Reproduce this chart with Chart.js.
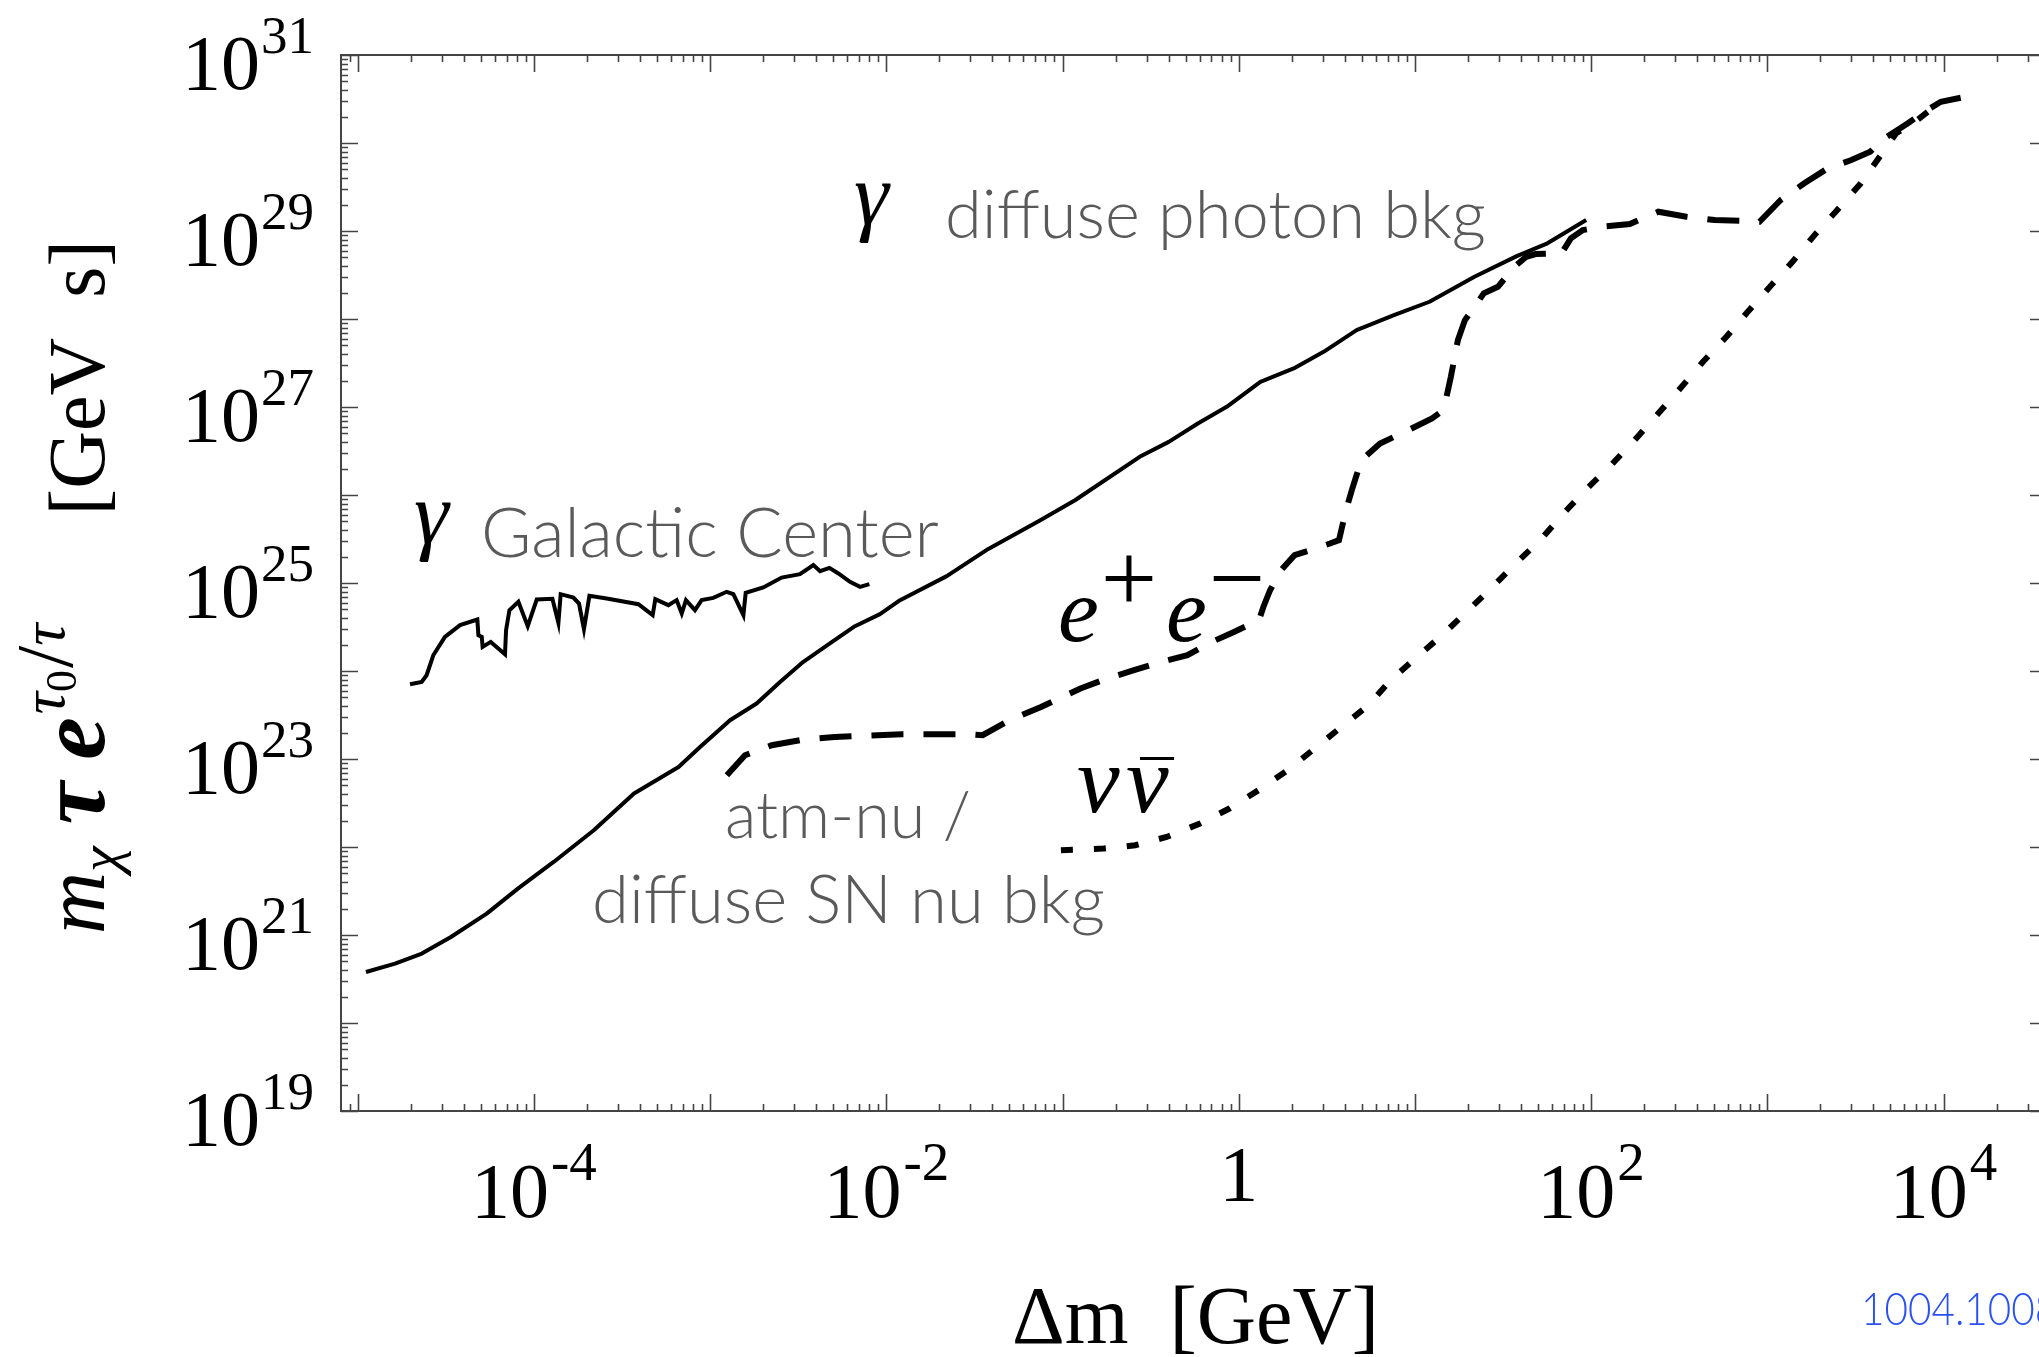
<!DOCTYPE html>
<html>
<head>
<meta charset="utf-8">
<script src="https://cdn.jsdelivr.net/npm/chart.js@4.4.1/dist/chart.umd.min.js"></script>
<style>
  html, body { margin: 0; padding: 0; background: #fff; overflow: hidden; }
  #wrap { width: 2039px; height: 1357px; overflow: hidden; position: relative; }
  canvas { display: block; }
</style>
</head>
<body>
<div id="wrap"><canvas id="chart" width="2060" height="1357"></canvas></div>
<script>
// values, stored as log10 exponents
// log10(Δm / GeV) and log10(m τ e^(τ0/τ) / GeV s)

// γ diffuse photon bkg (solid)
const photonLogM = [-4.953, -4.788, -4.636, -4.471, -4.268, -4.091, -3.888, -3.660, -3.432, -3.179,
    -3.057, -2.887, -2.736, -2.603, -2.471, -2.320, -2.178, -2.036, -1.922, -1.657,
    -1.421, -1.126, -0.929, -0.562, -0.397, -0.232, -0.068, 0.123, 0.312, 0.482,
    0.669, 0.881, 1.083, 1.338, 1.578, 1.752, 1.972];
const photonLogTau = [20.58, 20.675, 20.789, 20.977, 21.243, 21.527, 21.830, 22.190, 22.607, 22.910,
    23.137, 23.441, 23.630, 23.876, 24.104, 24.313, 24.509, 24.646, 24.805, 25.078,
    25.387, 25.712, 25.94, 26.434, 26.604, 26.813, 27.002, 27.286, 27.438, 27.627,
    27.874, 28.044, 28.196, 28.480, 28.715, 28.860, 29.124];

// γ Galactic Center (solid, jagged)
const gcLogM = [-4.703, -4.637, -4.609, -4.571, -4.505, -4.419, -4.321, -4.315, -4.296, -4.291,
    -4.245, -4.164, -4.158, -4.139, -4.088, -4.035, -3.984, -3.895, -3.861, -3.848,
    -3.776, -3.744, -3.716, -3.685, -3.587, -3.407, -3.326, -3.311, -3.237, -3.190,
    -3.161, -3.137, -3.086, -3.048, -2.982, -2.906, -2.868, -2.811, -2.798, -2.698,
    -2.594, -2.490, -2.414, -2.376, -2.323, -2.272, -2.206, -2.149, -2.096];
const gcLogTau = [23.850, 23.876, 23.952, 24.179, 24.388, 24.521, 24.585, 24.407, 24.388, 24.274,
    24.331, 24.191, 24.464, 24.691, 24.786, 24.509, 24.812, 24.820, 24.547, 24.873,
    24.835, 24.767, 24.475, 24.854, 24.823, 24.759, 24.634, 24.816, 24.748, 24.805,
    24.653, 24.805, 24.691, 24.805, 24.831, 24.900, 24.873, 24.634, 24.888, 24.949,
    25.062, 25.100, 25.203, 25.134, 25.172, 25.108, 25.013, 24.956, 24.987];

// e+e- (dashed)
const eeLogM = [-2.905, -2.802, -2.650, -2.472, -2.293, -1.911, -1.530, -1.453, -1.300, -1.122,
    -0.898, -0.747, -0.594, -0.443, -0.291, -0.152, -0.027, 0.115, 0.140, 0.178,
    0.240, 0.317, 0.393, 0.518, 0.569, 0.609, 0.642, 0.696, 0.802, 0.963,
    1.097, 1.163, 1.204, 1.244, 1.284, 1.338, 1.391, 1.471, 1.565, 1.632,
    1.685, 1.832, 1.885, 1.953, 2.060, 2.220, 2.381, 2.541, 2.701, 2.862,
    2.956, 3.076, 3.210, 3.343, 3.477, 3.584, 3.665, 3.798, 3.878, 3.985, 4.173];
const eeLogTau = [22.815, 23.043, 23.157, 23.221, 23.251, 23.282, 23.282, 23.270, 23.441, 23.592,
    23.801, 23.915, 24.009, 24.103, 24.179, 24.331, 24.444, 24.577, 24.728, 24.918,
    25.146, 25.316, 25.365, 25.449, 25.487, 25.828, 26.055, 26.396, 26.586, 26.737,
    26.870, 26.965, 27.343, 27.760, 27.988, 28.139, 28.291, 28.366, 28.593, 28.707,
    28.738, 28.746, 28.916, 29.011, 29.048, 29.079, 29.219, 29.162, 29.124, 29.116,
    29.105, 29.352, 29.542, 29.712, 29.806, 29.901, 30.053, 30.224, 30.337, 30.469, 30.545];

// ν ν̄ (dotted)
const nuLogM = [-1.009, -0.766, -0.587, -0.409, -0.219, -0.053, 0.112, 0.278, 0.431, 0.583,
    0.736, 0.862, 1.002, 1.154, 1.293, 1.432, 1.572, 1.711, 1.843, 1.977,
    2.113, 2.247, 2.381, 2.514, 2.635, 2.768, 2.889, 3.023, 3.143, 3.276,
    3.397, 3.531, 3.638, 3.731, 3.851, 3.985];
const nuLogTau = [21.963, 21.982, 22.020, 22.114, 22.267, 22.437, 22.645, 22.872, 23.119, 23.365,
    23.611, 23.895, 24.142, 24.407, 24.672, 24.938, 25.222, 25.487, 25.790, 26.074,
    26.339, 26.624, 26.927, 27.229, 27.514, 27.798, 28.082, 28.385, 28.650, 28.973,
    29.238, 29.542, 29.844, 30.110, 30.261, 30.469];

// axis ranges (exponents) and labelled decades
const xLogMin = -5.0948, xLogMax = 4.5874;
const yLogMin = 19, yLogMax = 31;
const xLabelExps = [-4, -2, 0, 2, 4];
const yLabelExps = [19, 21, 23, 25, 27, 29, 31];

const SERIF = '"Liberation Serif", "DejaVu Serif", serif';
const SANS = 'Lato, "Open Sans", "Noto Sans", sans-serif';
const GREY = '#5a5a5a';

function toPoints(lx, ly) {
    return lx.map((v, i) => ({ x: Math.pow(10, v), y: Math.pow(10, ly[i]) }));
}

// frame with inward ticks on all four sides
const framePlugin = {
    id: 'frame',
    afterDatasetsDraw(chart) {
        const { ctx, chartArea: a, scales: { x, y } } = chart;
        ctx.save();
        ctx.strokeStyle = '#444';
        ctx.lineWidth = 2;
        ctx.strokeRect(a.left, a.top, a.right - a.left, a.bottom - a.top);
        ctx.lineWidth = 1.6;
        ctx.beginPath();
        for (let e = -6; e <= 5; e++) {
            for (let m = 1; m <= 9; m++) {
                const v = m * Math.pow(10, e);
                if (v < x.min || v > x.max) continue;
                const px = Math.round(x.getPixelForValue(v)) + 0.5;
                const len = m === 1 ? 17 : 7;
                ctx.moveTo(px, a.bottom); ctx.lineTo(px, a.bottom - len);
                ctx.moveTo(px, a.top); ctx.lineTo(px, a.top + len);
            }
        }
        for (let e = 18; e <= 31; e++) {
            for (let m = 1; m <= 9; m++) {
                const v = m * Math.pow(10, e);
                if (v < y.min * 0.999 || v > y.max * 1.001) continue;
                const py = Math.round(y.getPixelForValue(v)) + 0.5;
                const len = m === 1 ? 17 : 7;
                ctx.moveTo(a.left, py); ctx.lineTo(a.left + len, py);
                ctx.moveTo(a.right, py); ctx.lineTo(a.right - len, py);
            }
        }
        ctx.stroke();
        ctx.restore();
    },
    afterDraw(chart) {
        const { ctx, scales: { x, y } } = chart;
        ctx.save();
        ctx.fillStyle = '#000';
        ctx.textBaseline = 'alphabetic';

        // y tick labels 10^n
        yLabelExps.forEach(e => {
            const py = y.getPixelForValue(Math.pow(10, e));
            const right = 314;
            ctx.font = `53px ${SERIF}`;
            const sw = ctx.measureText(String(e)).width;
            ctx.textAlign = 'left';
            ctx.fillText(String(e), right - sw, py - 2);
            ctx.font = `78px ${SERIF}`;
            ctx.textAlign = 'right';
            ctx.fillText('10', right - sw - 1, py + 34);
        });

        // x tick labels
        xLabelExps.forEach(e => {
            const px = x.getPixelForValue(Math.pow(10, e));
            ctx.textAlign = 'left';
            if (e === 0) {
                ctx.font = `78px ${SERIF}`;
                const w = ctx.measureText('1').width;
                ctx.fillText('1', px - w / 2, 1200);
                return;
            }
            const sup = e < 0 ? '-' + Math.abs(e) : String(e);
            ctx.font = `78px ${SERIF}`;
            const bw = ctx.measureText('10').width;
            ctx.font = `55px ${SERIF}`;
            const sw = ctx.measureText(sup).width;
            const left = px - (bw + 2 + sw) / 2;
            ctx.fillText(sup, left + bw + 2, 1180);
            ctx.font = `78px ${SERIF}`;
            ctx.fillText('10', left, 1217);
        });

        // x axis title
        ctx.font = `82px ${SERIF}`;
        ctx.textAlign = 'left';
        ctx.fillText('Δm  [GeV]', 1012, 1343);

        // y axis title, rotated
        ctx.save();
        ctx.translate(104, 0);
        ctx.rotate(-Math.PI / 2);
        let u = -934;
        const put = (text, font, v, gap) => {
            u += gap || 0;
            ctx.font = font;
            ctx.fillText(text, u, v);
            u += ctx.measureText(text).width;
        };
        put('m', `italic 86px ${SERIF}`, 0, 0);
        put('χ', `italic 58px ${SERIF}`, 15, 0);
        put('τ', `bold italic 96px ${SERIF}`, 0, 22);
        put('e', `bold italic 96px ${SERIF}`, 0, 22);
        put('τ', `italic 62px ${SERIF}`, -40, 3);
        put('0', `44px ${SERIF}`, -28, 0);
        put('/', `80px ${SERIF}`, -32, 2);
        put('τ', `italic 62px ${SERIF}`, -40, 0);
        ctx.font = `80px ${SERIF}`;
        ctx.textAlign = 'right';
        ctx.fillText('[GeV  s]', -240, 0);
        ctx.restore();

        // curve annotations
        ctx.textAlign = 'left';
        ctx.font = `italic 88px ${SERIF}`;
        ctx.fillText('γ', 854, 224);
        ctx.fillText('γ', 414, 543);

        ctx.font = `italic 92px ${SERIF}`;
        ctx.fillText('e', 1058, 641);
        ctx.fillText('e', 1166, 641);
        ctx.font = `100px ${SERIF}`;
        ctx.textAlign = 'center';
        ctx.fillText('+', 1129, 612);
        ctx.fillText('−', 1237, 612);

        // ν ν̄ with the bar set over the second ν
        ctx.textAlign = 'left';
        ctx.font = `italic 96px ${SERIF}`;
        ctx.fillText('ν', 1077, 812);
        ctx.fillText('ν', 1126, 812);
        ctx.font = `66px ${SERIF}`;
        ctx.textAlign = 'center';
        const mb = ctx.measureText('¯');
        ctx.fillText('¯', 1157, 758 - (mb.actualBoundingBoxDescent - mb.actualBoundingBoxAscent) / 2);

        ctx.textAlign = 'left';
        const fit = (text, x0, base, width, color) => {
            ctx.font = `300 100px ${SANS}`;
            const size = 100 * width / ctx.measureText(text).width;
            ctx.font = `300 ${size}px ${SANS}`;
            ctx.fillStyle = color;
            ctx.fillText(text, x0, base);
        };
        fit('diffuse photon bkg', 945, 238, 541, GREY);
        fit('Galactic Center', 481, 557, 458, GREY);
        fit('atm-nu /', 725, 838, 246, GREY);
        fit('diffuse SN nu bkg', 592, 923, 513, GREY);

        // reference tag, narrow face, runs off the right edge
        ctx.save();
        ctx.translate(1861, 1325);
        ctx.scale(0.88, 1);
        ctx.fillStyle = '#2a50f0';
        ctx.font = `300 46px ${SANS}`;
        ctx.fillText('1004.1008', 0, 0);
        ctx.restore();
        ctx.restore();
    }
};

const ctx = document.getElementById('chart').getContext('2d');
new Chart(ctx, {
    type: 'scatter',
    data: {
        datasets: [{
            label: 'γ diffuse photon bkg',
            data: toPoints(photonLogM, photonLogTau),
            borderColor: '#000',
            borderWidth: 4,
            borderJoinStyle: 'round'
        }, {
            label: 'γ Galactic Center',
            data: toPoints(gcLogM, gcLogTau),
            borderColor: '#000',
            borderWidth: 4,
            borderJoinStyle: 'miter'
        }, {
            label: 'e+e-',
            data: toPoints(eeLogM, eeLogTau),
            borderColor: '#000',
            borderWidth: 6,
            borderDash: [32, 20]
        }, {
            label: 'nu nubar',
            data: toPoints(nuLogM, nuLogTau),
            borderColor: '#000',
            borderWidth: 6,
            borderDash: [12, 21]
        }]
    },
    options: {
        responsive: false,
        animation: false,
        devicePixelRatio: 1,
        showLine: true,
        elements: {
            point: { radius: 0, hoverRadius: 0 },
            line: { tension: 0, fill: false, borderCapStyle: 'butt' }
        },
        layout: { padding: { left: 341, top: 55, right: 13, bottom: 246 } },
        scales: {
            x: {
                type: 'logarithmic',
                display: false,
                min: Math.pow(10, xLogMin),
                max: Math.pow(10, xLogMax)
            },
            y: {
                type: 'logarithmic',
                display: false,
                min: Math.pow(10, yLogMin),
                max: Math.pow(10, yLogMax)
            }
        },
        plugins: {
            legend: { display: false },
            tooltip: { enabled: false }
        }
    },
    plugins: [framePlugin]
});
</script>
</body>
</html>
